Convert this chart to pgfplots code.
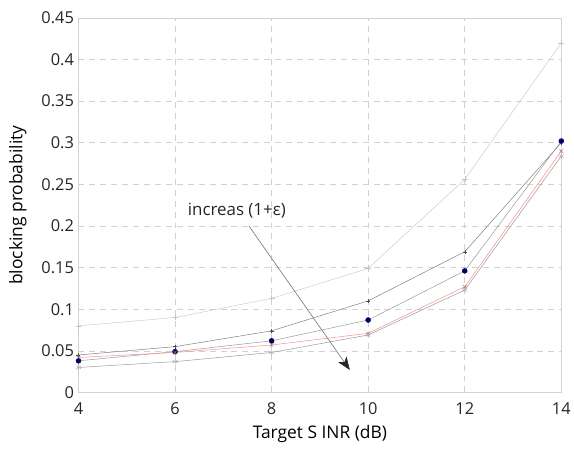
\documentclass[border=0pt]{standalone}
\usepackage{pgfplots}
\pgfplotsset{compat=1.18}
\usepackage{fontspec}
\setmainfont{Open Sans}
\usetikzlibrary{arrows.meta}
\begin{document}
\begin{tikzpicture}
\begin{axis}[
  name=ax,
  scale only axis,
  width=486pt, height=377pt,
  xmin=4, xmax=14, ymin=0, ymax=0.45,
  xtick={4,6,...,14},
  ytick={0,0.05,...,0.45},
  yticklabels={0,0.05,0.1,0.15,0.2,0.25,0.3,0.35,0.4,0.45},
  /pgf/number format/assume math mode=true,
  tick label style={font=\fontsize{16.5}{18}\selectfont, color=black!85},
  xticklabel style={yshift=-7pt},
  yticklabel style={xshift=-1pt},
  xlabel={Target S INR (dB)},
  ylabel={blocking probability},
  every axis x label/.style={at={(rel axis cs:0.5,0)}, yshift=-42pt, anchor=center, font=\fontsize{17.5}{19}\selectfont},
  every axis y label/.style={at={(rel axis cs:0,0.5)}, xshift=-61pt, rotate=90, anchor=center, font=\fontsize{17.5}{19}\selectfont},
  grid=major,
  major grid style={dash pattern=on 6pt off 5pt, color=black!18, line width=0.6pt},
  axis line style={black!18},
  tick style={draw=none},
  every axis plot/.append style={line width=0.5pt},
]
\addplot[color=black!20, mark=+, mark size=3pt, mark options={color=green!40!black!30}] coordinates {
 (4,0.080) (6,0.090) (8,0.113) (10,0.149) (12,0.256) (14,0.420)};
\addplot[color=black!50, mark=+, mark size=2pt, mark options={color=black!70}] coordinates {
 (4,0.045) (6,0.055) (8,0.074) (10,0.110) (12,0.169) (14,0.300)};
\addplot[color=black!40, mark=*, mark size=2.5pt, mark options={fill=blue!40!black, draw=blue!40!black}] coordinates {
 (4,0.038) (6,0.049) (8,0.062) (10,0.087) (12,0.146) (14,0.302)};
\addplot[color=red!45, mark=x, mark size=2.5pt, mark options={color=red!50!black!60}] coordinates {
 (4,0.042) (6,0.048) (8,0.057) (10,0.071) (12,0.127) (14,0.290)};
\addplot[color=black!40, mark=asterisk, mark size=3pt, mark options={color=black!30}] coordinates {
 (4,0.030) (6,0.037) (8,0.048) (10,0.069) (12,0.123) (14,0.284)};
\draw[black!55, line width=0.6pt, -{Stealth[length=13pt, width=10pt, inset=3.5pt, black!85]}] (axis cs:7.53,0.200) -- (axis cs:9.62,0.027);
\node[font=\fontsize{17}{19}\selectfont, color=black!85, inner sep=1pt] at (axis cs:7.28,0.218) {increas (1+ε)};
\end{axis}
\path ([shift={(-79pt,-57pt)}]ax.south west) rectangle ([shift={(9pt,18pt)}]ax.north east);
\end{tikzpicture}
\end{document}
